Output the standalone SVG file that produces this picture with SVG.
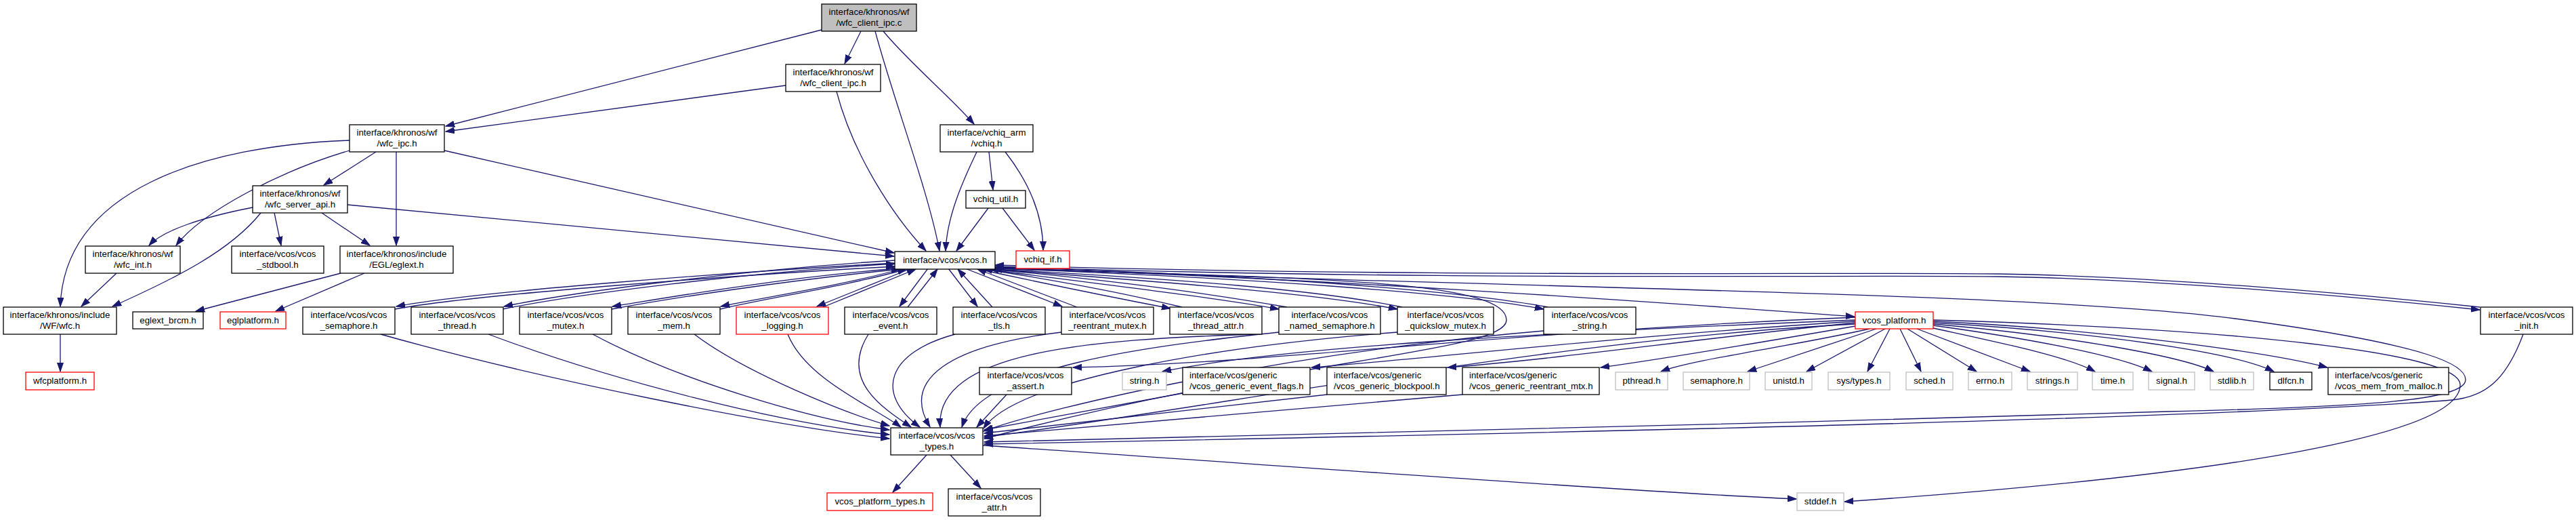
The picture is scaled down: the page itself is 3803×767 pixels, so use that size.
<svg xmlns="http://www.w3.org/2000/svg" width="3803" height="767" viewBox="0 0 3803 767">
<defs>
<marker id="a" markerWidth="14" markerHeight="10" refX="13" refY="5" orient="auto" markerUnits="userSpaceOnUse"><path d="M0,0.5 L13,5 L0,9.5 z" fill="#191970" stroke="#191970" stroke-width="1"/></marker>
<style>
.n rect{fill:#fff;stroke:#000;stroke-width:1.3}
.root rect{fill:#bfbfbf}
.red rect{stroke:#ff0000}
.ext rect{stroke:#bfbfbf}
text{font-family:"Liberation Sans",Arial,sans-serif;font-size:13.3px;fill:#000;text-anchor:middle}
text.l{text-anchor:start}
#edges path{fill:none;stroke:#191970;stroke-width:1.3;marker-end:url(#a)}
</style>
</defs>
<rect width="3803" height="767" fill="#fff"/>
<g id="edges">
<path d="M1213,44 L658,186"/>
<path d="M1271,46 L1247,94"/>
<path d="M1292,46 C1320,150 1370,280 1387,370"/>
<path d="M1304,46 C1340,90 1400,140 1438,183"/>
<path d="M1160,126 L658,194"/>
<path d="M1235,135 C1260,230 1320,320 1367,370"/>
<path d="M1442,224 C1420,270 1398,320 1396,370"/>
<path d="M1460,224 L1466,280"/>
<path d="M1484,224 C1520,270 1540,320 1540,369"/>
<path d="M1459,307 L1412,370"/>
<path d="M1480,307 L1527,369"/>
<path d="M555,224 L478,273"/>
<path d="M585,224 L585,362"/>
<path d="M656,222 L1320,373"/>
<path d="M513,302 L1320,378"/>
<path d="M516,222 C420,250 300,310 260,362"/>
<path d="M516,207 C300,215 95,280 89,452"/>
<path d="M373,306 C300,320 240,340 220,362"/>
<path d="M405,314 L415,362"/>
<path d="M475,314 L546,362"/>
<path d="M385,314 C340,370 260,410 166,452"/>
<path d="M172,403 L120,452"/>
<path d="M89,493 L89,548"/>
<path d="M503,403 L289,459"/>
<path d="M538,403 L407,459"/>
<!-- vcos.h pairs -->
<path d="M1321,388 C1100,400 700,430 585,452"/>
<path d="M583,456 C700,434 1100,405 1321,393"/>
<path d="M1321,384 C1100,398 850,430 744,452"/>
<path d="M742,456 C850,434 1100,402 1321,389"/>
<path d="M1325,396 C1150,410 980,440 904,452"/>
<path d="M903,456 C990,440 1150,415 1329,397"/>
<path d="M1333,396 C1250,420 1120,440 1064,452"/>
<path d="M1063,456 C1130,440 1250,422 1338,397"/>
<path d="M1345,396 L1206,452"/>
<path d="M1215,453 L1352,397"/>
<path d="M1370,396 L1328,452"/>
<path d="M1340,453 L1384,397"/>
<path d="M1400,396 L1443,452"/>
<path d="M1465,453 L1414,397"/>
<path d="M1425,396 L1568,452"/>
<path d="M1590,453 L1443,397"/>
<path d="M1440,396 C1550,420 1650,440 1728,455"/>
<path d="M1745,453 C1650,430 1550,412 1452,397"/>
<path d="M1455,397 C1650,422 1800,440 1888,456"/>
<path d="M1900,453 C1780,432 1650,414 1461,397"/>
<path d="M1463,397 C1750,418 1950,434 2063,456"/>
<path d="M2070,453 C1950,428 1750,412 1466,397"/>
<path d="M1467,396 C1850,410 2150,432 2279,456"/>
<path d="M2285,453 C2150,428 1850,405 1469,394"/>
<path d="M1468,395 C2000,412 2500,450 2738,467"/>
<path d="M1469,393 C2100,415 2700,405 2950,408 C3200,412 3500,440 3661,457"/>
<path d="M3661,453 C3500,436 3200,408 2950,404 C2700,401 2100,410 1469,391"/>
<path d="M1469,395 C2200,425 3000,430 3300,470 C3600,510 3640,540 3640,560 C3640,590 3500,600 3200,607 C2600,625 1800,645 1453,652"/>
<path d="M1469,396 C1900,410 2224,410 2224,472 C2224,520 1900,528 1453,647"/>
<!-- to types -->
<path d="M562,493 C800,560 1150,630 1313,647"/>
<path d="M721,493 C900,560 1150,625 1313,641"/>
<path d="M875,493 C1000,560 1200,620 1313,634"/>
<path d="M1025,493 C1100,550 1250,610 1313,628"/>
<path d="M1163,493 C1190,560 1290,600 1330,630"/>
<path d="M1282,493 C1240,560 1300,600 1345,630"/>
<path d="M1410,493 C1310,520 1290,580 1358,630"/>
<path d="M1567,490 C1400,510 1330,560 1373,630"/>
<path d="M1860,493 C1600,500 1380,520 1388,630"/>
<path d="M1888,490 C1700,510 1450,540 1420,630"/>
<path d="M2063,490 C1800,510 1500,560 1452,632"/>
<path d="M2279,488 C1900,520 1550,600 1452,636"/>
<path d="M1486,582 L1442,630"/>
<path d="M1746,580 L1453,634"/>
<path d="M1959,582 L1453,639"/>
<path d="M2159,582 L1453,643"/>
<path d="M2739,478 C2300,500 1800,600 1453,645"/>
<path d="M3725,493 C3700,560 3670,585 3620,590 C3300,615 2500,635 1453,655"/>
<!-- vcos_platform.h -->
<path d="M2739,468 C2200,490 1900,535 1584,542"/>
<path d="M2739,472 C2300,490 1900,510 1716,548"/>
<path d="M2739,474 C2400,495 2100,530 1936,542"/>
<path d="M2739,476 C2500,500 2300,530 2137,542"/>
<path d="M2745,480 C2600,505 2450,530 2363,542"/>
<path d="M2760,485 C2650,510 2500,530 2452,548"/>
<path d="M2770,485 L2580,548"/>
<path d="M2783,485 L2667,548"/>
<path d="M2790,485 L2757,548"/>
<path d="M2805,485 L2836,548"/>
<path d="M2816,485 L2918,548"/>
<path d="M2830,485 L2997,548"/>
<path d="M2850,483 C2950,505 3050,525 3093,548"/>
<path d="M2854,480 C3000,500 3130,525 3177,548"/>
<path d="M2854,478 C3050,495 3220,525 3268,548"/>
<path d="M2854,476 C3100,490 3300,520 3357,548"/>
<path d="M2854,474 C3100,485 3350,520 3436,542"/>
<path d="M2854,472 C3300,485 3630,520 3632,567 C3635,640 3300,700 2723,740"/>
<!-- vcos_types.h -->
<path d="M1368,671 L1318,726"/>
<path d="M1403,671 L1448,720"/>
<path d="M1451,657 C1800,680 2400,725 2652,736"/>
</g>
<g id="n_root" class="n root"><rect x="1213" y="6" width="140" height="40"/><text x="1283" y="22">interface/khronos/wf</text><text x="1283" y="38">/wfc_client_ipc.c</text></g>
<g id="n_cih" class="n"><rect x="1160" y="95" width="140" height="40"/><text x="1230" y="111">interface/khronos/wf</text><text x="1230" y="127">/wfc_client_ipc.h</text></g>
<g id="n_vchiq" class="n"><rect x="1388" y="184" width="137" height="40"/><text x="1456.5" y="200">interface/vchiq_arm</text><text x="1456.5" y="216">/vchiq.h</text></g>
<g id="n_ipc" class="n"><rect x="516" y="184" width="140" height="40"/><text x="586" y="200">interface/khronos/wf</text><text x="586" y="216">/wfc_ipc.h</text></g>
<g id="n_srv" class="n"><rect x="373" y="274" width="140" height="40"/><text x="443" y="290">interface/khronos/wf</text><text x="443" y="306">/wfc_server_api.h</text></g>
<g id="n_vutil" class="n"><rect x="1426" y="281" width="88" height="26"/><text x="1470" y="298">vchiq_util.h</text></g>
<g id="n_int" class="n"><rect x="126" y="363" width="140" height="40"/><text x="196" y="379">interface/khronos/wf</text><text x="196" y="395">/wfc_int.h</text></g>
<g id="n_stdbool" class="n"><rect x="342" y="363" width="136" height="40"/><text x="410" y="379">interface/vcos/vcos</text><text x="410" y="395">_stdbool.h</text></g>
<g id="n_eglext" class="n"><rect x="502" y="363" width="167" height="40"/><text x="585.5" y="379">interface/khronos/include</text><text x="585.5" y="395">/EGL/eglext.h</text></g>
<g id="n_vcos" class="n"><rect x="1321" y="371" width="148" height="26"/><text x="1395" y="388">interface/vcos/vcos.h</text></g>
<g id="n_vif" class="n red"><rect x="1500" y="370" width="79" height="26"/><text x="1539.5" y="387">vchiq_if.h</text></g>
<g id="n_wfc" class="n"><rect x="5" y="453" width="167" height="40"/><text x="88.5" y="469">interface/khronos/include</text><text x="88.5" y="485">/WF/wfc.h</text></g>
<g id="n_wfcplat" class="n red"><rect x="38" y="549" width="101" height="26"/><text x="88.5" y="566">wfcplatform.h</text></g>
<g id="n_brcm" class="n"><rect x="196" y="460" width="104" height="25"/><text x="248" y="477">eglext_brcm.h</text></g>
<g id="n_eglplat" class="n red"><rect x="325" y="460" width="97" height="25"/><text x="373.5" y="477">eglplatform.h</text></g>
<g id="n_sem" class="n"><rect x="447" y="453" width="136" height="40"/><text x="515" y="469">interface/vcos/vcos</text><text x="515" y="485">_semaphore.h</text></g>
<g id="n_thr" class="n"><rect x="607" y="453" width="136" height="40"/><text x="675" y="469">interface/vcos/vcos</text><text x="675" y="485">_thread.h</text></g>
<g id="n_mtx" class="n"><rect x="767" y="453" width="136" height="40"/><text x="835" y="469">interface/vcos/vcos</text><text x="835" y="485">_mutex.h</text></g>
<g id="n_mem" class="n"><rect x="927" y="453" width="136" height="40"/><text x="995" y="469">interface/vcos/vcos</text><text x="995" y="485">_mem.h</text></g>
<g id="n_log" class="n red"><rect x="1087" y="453" width="136" height="40"/><text x="1155" y="469">interface/vcos/vcos</text><text x="1155" y="485">_logging.h</text></g>
<g id="n_evt" class="n"><rect x="1247" y="453" width="136" height="40"/><text x="1315" y="469">interface/vcos/vcos</text><text x="1315" y="485">_event.h</text></g>
<g id="n_tls" class="n"><rect x="1407" y="453" width="136" height="40"/><text x="1475" y="469">interface/vcos/vcos</text><text x="1475" y="485">_tls.h</text></g>
<g id="n_rmtx" class="n"><rect x="1567" y="453" width="136" height="40"/><text x="1635" y="469">interface/vcos/vcos</text><text x="1635" y="485">_reentrant_mutex.h</text></g>
<g id="n_tattr" class="n"><rect x="1727" y="453" width="136" height="40"/><text x="1795" y="469">interface/vcos/vcos</text><text x="1795" y="485">_thread_attr.h</text></g>
<g id="n_nsem" class="n"><rect x="1888" y="453" width="150" height="40"/><text x="1963" y="469">interface/vcos/vcos</text><text x="1963" y="485">_named_semaphore.h</text></g>
<g id="n_qsm" class="n"><rect x="2063" y="453" width="142" height="40"/><text x="2134" y="469">interface/vcos/vcos</text><text x="2134" y="485">_quickslow_mutex.h</text></g>
<g id="n_str" class="n"><rect x="2279" y="453" width="136" height="40"/><text x="2347" y="469">interface/vcos/vcos</text><text x="2347" y="485">_string.h</text></g>
<g id="n_plat" class="n red"><rect x="2739" y="460" width="115" height="25"/><text x="2796.5" y="477">vcos_platform.h</text></g>
<g id="n_init" class="n"><rect x="3662" y="453" width="136" height="40"/><text x="3730" y="469">interface/vcos/vcos</text><text x="3730" y="485">_init.h</text></g>
<g id="n_assert" class="n"><rect x="1446" y="542" width="136" height="40"/><text x="1514" y="558">interface/vcos/vcos</text><text x="1514" y="574">_assert.h</text></g>
<g id="n_string" class="n ext"><rect x="1657" y="549" width="65" height="26"/><text x="1689.5" y="566">string.h</text></g>
<g id="n_gef" class="n"><rect x="1746" y="542" width="188" height="40"/><text class="l" x="1756" y="558">interface/vcos/generic</text><text class="l" x="1756" y="574">/vcos_generic_event_flags.h</text></g>
<g id="n_gbp" class="n"><rect x="1959" y="542" width="176" height="40"/><text class="l" x="1969" y="558">interface/vcos/generic</text><text class="l" x="1969" y="574">/vcos_generic_blockpool.h</text></g>
<g id="n_grm" class="n"><rect x="2159" y="542" width="202" height="40"/><text class="l" x="2169" y="558">interface/vcos/generic</text><text class="l" x="2169" y="574">/vcos_generic_reentrant_mtx.h</text></g>
<g id="n_pthread" class="n ext"><rect x="2385" y="549" width="77" height="26"/><text x="2423.5" y="566">pthread.h</text></g>
<g id="n_semaphore" class="n ext"><rect x="2485" y="549" width="98" height="26"/><text x="2534" y="566">semaphore.h</text></g>
<g id="n_unistd" class="n ext"><rect x="2606" y="549" width="69" height="26"/><text x="2640.5" y="566">unistd.h</text></g>
<g id="n_systypes" class="n ext"><rect x="2699" y="549" width="91" height="26"/><text x="2744.5" y="566">sys/types.h</text></g>
<g id="n_sched" class="n ext"><rect x="2814" y="549" width="69" height="26"/><text x="2848.5" y="566">sched.h</text></g>
<g id="n_errno" class="n ext"><rect x="2906" y="549" width="64" height="26"/><text x="2938" y="566">errno.h</text></g>
<g id="n_strings" class="n ext"><rect x="2993" y="549" width="74" height="26"/><text x="3030" y="566">strings.h</text></g>
<g id="n_time" class="n ext"><rect x="3089" y="549" width="60" height="26"/><text x="3119" y="566">time.h</text></g>
<g id="n_signal" class="n ext"><rect x="3172" y="549" width="68" height="26"/><text x="3206" y="566">signal.h</text></g>
<g id="n_stdlib" class="n ext"><rect x="3263" y="549" width="64" height="26"/><text x="3295" y="566">stdlib.h</text></g>
<g id="n_dlfcn" class="n"><rect x="3351" y="549" width="62" height="26"/><text x="3382" y="566">dlfcn.h</text></g>
<g id="n_mfm" class="n"><rect x="3437" y="542" width="178" height="40"/><text class="l" x="3447" y="558">interface/vcos/generic</text><text class="l" x="3447" y="574">/vcos_mem_from_malloc.h</text></g>
<g id="n_types" class="n"><rect x="1315" y="631" width="136" height="40"/><text x="1383" y="647">interface/vcos/vcos</text><text x="1383" y="663">_types.h</text></g>
<g id="n_ptypes" class="n red"><rect x="1221" y="727" width="156" height="26"/><text x="1299" y="744">vcos_platform_types.h</text></g>
<g id="n_attr" class="n"><rect x="1400" y="721" width="136" height="40"/><text x="1468" y="737">interface/vcos/vcos</text><text x="1468" y="753">_attr.h</text></g>
<g id="n_stddef" class="n ext"><rect x="2653" y="727" width="69" height="26"/><text x="2687.5" y="744">stddef.h</text></g>
</svg>
